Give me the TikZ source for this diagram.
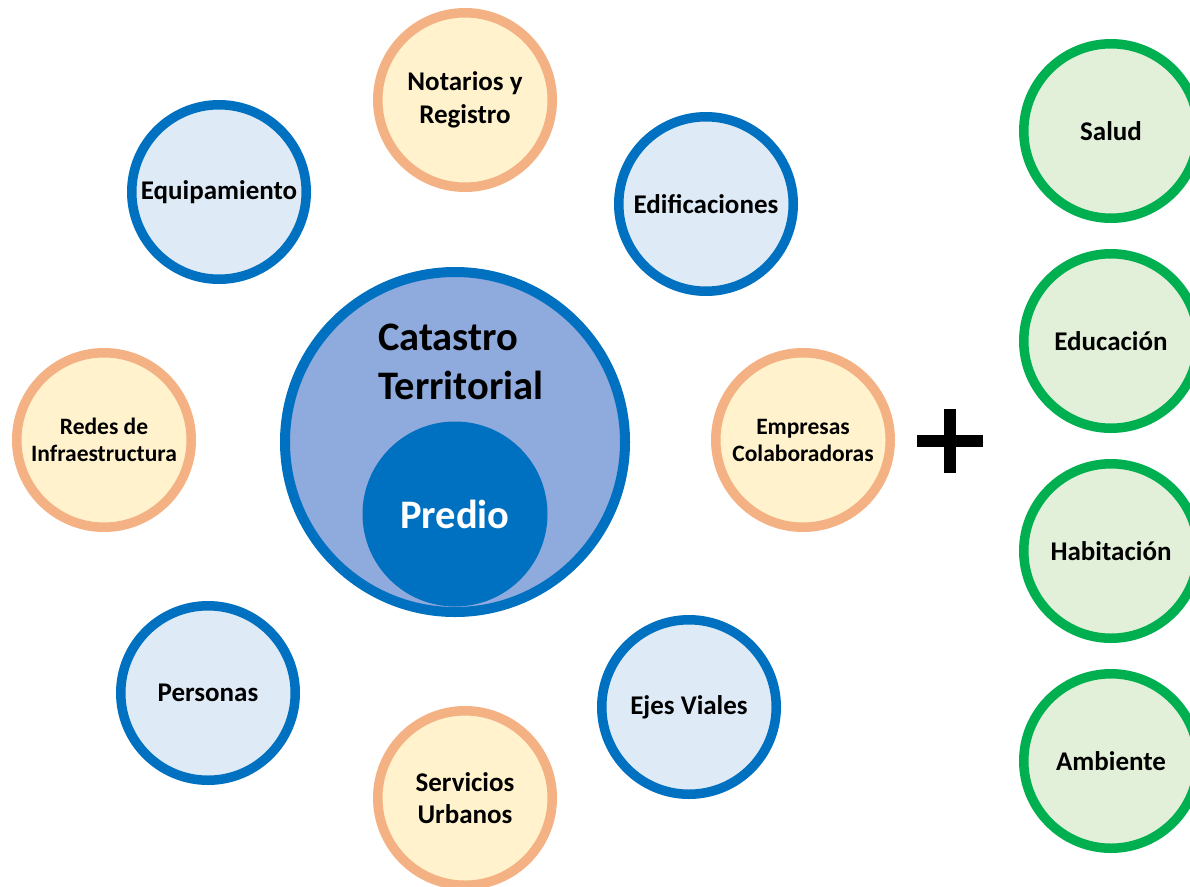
\documentclass[tikz,border=0pt]{standalone}
\usepackage{fontspec}
\setmainfont{Carlito}
\usepackage{tikz}
\usetikzlibrary{arrows,positioning}
\definecolor{azul}{HTML}{0070C0}
\definecolor{azulclaro}{HTML}{DEEBF7}
\definecolor{azulmedio}{HTML}{8FAADC}
\definecolor{naranja}{HTML}{F4B183}
\definecolor{naranjaclaro}{HTML}{FFF2CC}
\definecolor{verde}{HTML}{00B050}
\definecolor{verdeclaro}{HTML}{E2F0D9}

\begin{document}
\begin{tikzpicture}[x=1pt,y=-1pt,node distance=210pt,
                    font=\bfseries\fontsize{27}{32.5}\selectfont]
  \tikzstyle{bola}=[circle,line width=9.5pt,minimum size=174.5pt,inner sep=0pt,align=center]
  \tikzstyle{azulc}=[bola,draw=azul,fill=azulclaro]
  \tikzstyle{naranjac}=[bola,draw=naranja,fill=naranjaclaro]
  \tikzstyle{verdec}=[bola,draw=verde,fill=verdeclaro]
  \tikzstyle{chico}=[font=\bfseries\fontsize{23.5}{27}\selectfont]
  \tikzstyle{grande}=[font=\bfseries\fontsize{40.5}{49}\selectfont]

  \useasboundingbox (0,0) rectangle (1190,886);

  % centro
  \node[circle,draw=azul,fill=azulmedio,line width=10pt,minimum size=340pt] (C) at (455,442) {};
  \node[circle,fill=azul,minimum size=185pt,inner sep=0pt] (P) at (455,514) {};
  \node[text=white,grande] at (P) {Predio};
  \node[align=left,grande,anchor=west,inner sep=0pt] (T) at (378,362) {Catastro\\Territorial};

  % alrededor
  \node[naranjac] (N) at (465,100) {Notarios y\\Registro};
  \node[azulc]    (Q) at (219,192) {Equipamiento};
  \node[azulc]    (E) at (706,204) {Edificaciones};
  \node[naranjac,chico] (R) at (104,440) {Redes de\\Infraestructura};
  \node[naranjac,chico] (M) at (803,440) {Empresas\\Colaboradoras};
  \node[azulc]    (H) at (208,693) {Personas};
  \node[naranjac] (S) at (465,798) {Servicios\\Urbanos};
  \node[azulc]    (V) at (689,707) {Ejes Viales};

  % mas
  \coordinate (X) at (950,441);
  \draw[line width=11.5pt] ([xshift=-33pt]X) -- ([xshift=33pt]X);
  \draw[line width=11.5pt] ([yshift=-32pt]X) -- ([yshift=32pt]X);

  % columna verde
  \node[verdec] (A)                 at (1111,131) {Salud};
  \node[verdec] (B) [below of=A]                  {Educación};
  \node[verdec] (D) [below of=B]                  {Habitación};
  \node[verdec] (F) [below of=D]                  {Ambiente};
\end{tikzpicture}
\end{document}
